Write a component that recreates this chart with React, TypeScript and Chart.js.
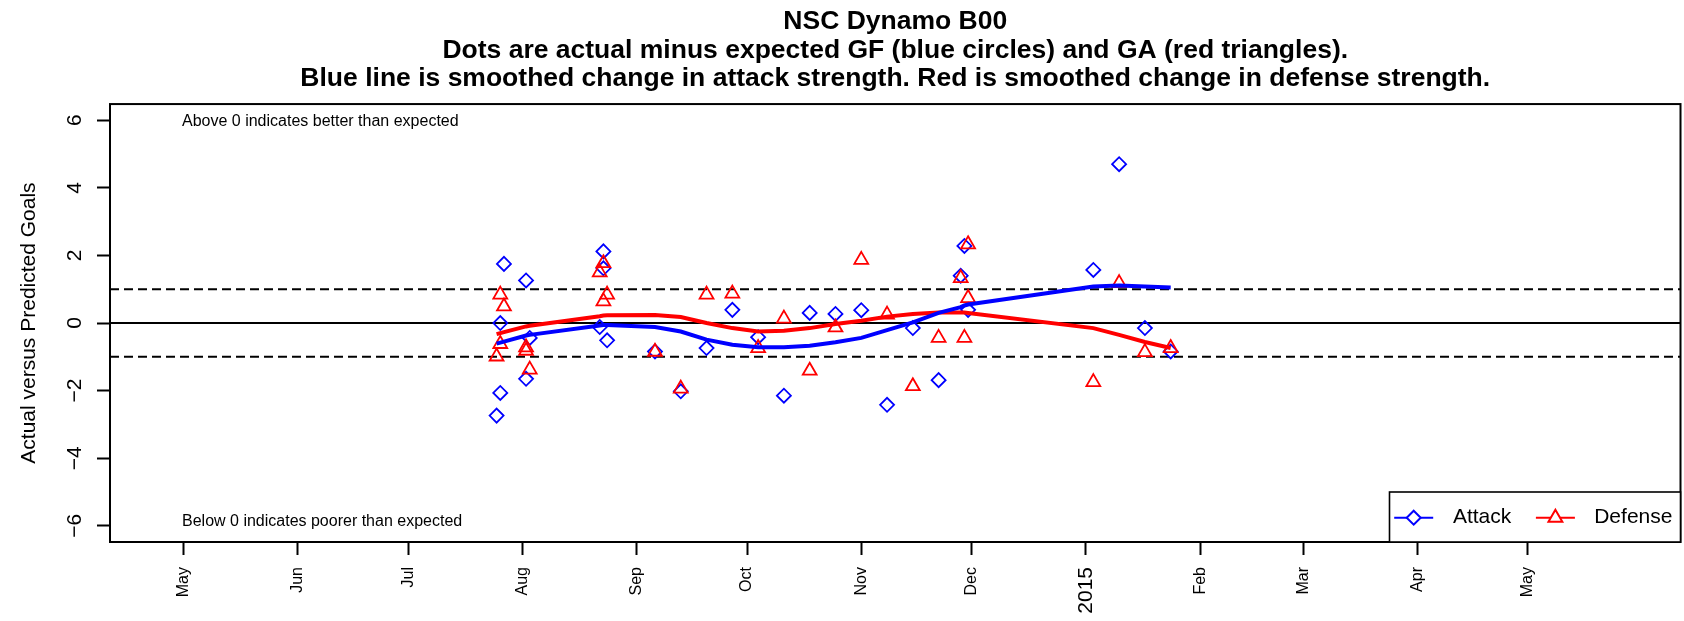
import React, { useEffect, useRef } from 'react';
import { Chart, registerables } from 'chart.js';

Chart.register(...registerables);

const FONT = "'Liberation Sans', Arial, Helvetica, sans-serif";
const BASE_DATE = '2014-05-01';

const titleLines = [
  'NSC Dynamo B00',
  'Dots are actual minus expected GF (blue circles) and GA (red triangles).',
  'Blue line is smoothed change in attack strength. Red is smoothed change in defense strength.',
];
const yAxisTitle = 'Actual versus Predicted Goals';
const noteAbove = 'Above 0 indicates better than expected';
const noteBelow = 'Below 0 indicates poorer than expected';
const legendLabels = ['Attack', 'Defense'];

const attackDates = [
  '2014-07-25', '2014-07-26', '2014-07-26', '2014-07-27', '2014-08-02', '2014-08-02', '2014-08-03',
  '2014-08-22', '2014-08-23', '2014-08-23', '2014-08-24', '2014-09-06', '2014-09-13', '2014-09-20',
  '2014-09-27', '2014-10-04', '2014-10-11', '2014-10-18', '2014-10-25', '2014-11-01', '2014-11-08',
  '2014-11-15', '2014-11-22', '2014-11-28', '2014-11-29', '2014-11-30', '2015-01-03', '2015-01-10',
  '2015-01-17', '2015-01-24',
];
const attackValues = [
  -2.74, 0.0, -2.07, 1.75, 1.26, -1.65, -0.44,
  -0.12, 2.12, 1.62, -0.51, -0.84, -2.02, -0.74,
  0.39, -0.42, -2.15, 0.3, 0.27, 0.38, -2.42,
  -0.15, -1.69, 1.4, 2.28, 0.39, 1.57, 4.7,
  -0.15, -0.84,
];

const defenseDates = [
  '2014-07-25', '2014-07-26', '2014-07-26', '2014-07-27', '2014-08-02', '2014-08-02', '2014-08-03',
  '2014-08-22', '2014-08-23', '2014-08-23', '2014-08-24', '2014-09-06', '2014-09-13', '2014-09-20',
  '2014-09-27', '2014-10-04', '2014-10-11', '2014-10-18', '2014-10-25', '2014-11-01', '2014-11-08',
  '2014-11-15', '2014-11-22', '2014-11-28', '2014-11-29', '2014-11-30', '2014-11-30', '2015-01-03',
  '2015-01-10', '2015-01-17', '2015-01-24',
];
const defenseValues = [
  -0.99, 0.84, -0.62, 0.49, -0.72, -0.82, -1.38,
  1.5, 1.77, 0.64, 0.84, -0.85, -1.94, 0.84,
  0.87, -0.74, 0.13, -1.41, -0.13, 1.87, 0.25,
  -1.87, -0.44, 1.33, -0.44, 2.33, 0.74, -1.75,
  1.18, -0.86, -0.74,
];

const smoothDates = [
  '2014-07-25', '2014-07-26', '2014-07-27', '2014-08-02', '2014-08-03', '2014-08-22', '2014-08-23',
  '2014-08-24', '2014-09-06', '2014-09-13', '2014-09-20', '2014-09-27', '2014-10-04', '2014-10-11',
  '2014-10-18', '2014-10-25', '2014-11-01', '2014-11-08', '2014-11-15', '2014-11-22', '2014-11-28',
  '2014-11-29', '2014-11-30', '2015-01-03', '2015-01-10', '2015-01-17', '2015-01-24',
];
const attackSmooth = [
  -0.61, -0.58, -0.55, -0.37, -0.35, -0.07, -0.06,
  -0.06, -0.12, -0.25, -0.49, -0.64, -0.72, -0.72,
  -0.67, -0.57, -0.44, -0.21, 0.02, 0.3, 0.47,
  0.52, 0.55, 1.08, 1.11, 1.08, 1.05,
];
const defenseSmooth = [
  -0.33, -0.3, -0.27, -0.1, -0.08, 0.2, 0.22,
  0.23, 0.24, 0.18, 0.0, -0.15, -0.25, -0.23,
  -0.15, -0.03, 0.07, 0.19, 0.27, 0.31, 0.31,
  0.31, 0.3, -0.15, -0.35, -0.56, -0.74,
];

const monthTickDates = [
  '2014-05-01', '2014-06-01', '2014-07-01', '2014-08-01', '2014-09-01', '2014-10-01', '2014-11-01',
  '2014-12-01', '2015-01-01', '2015-02-01', '2015-03-01', '2015-04-01', '2015-05-01',
];
const monthTickLabels = ['May', 'Jun', 'Jul', 'Aug', 'Sep', 'Oct', 'Nov', 'Dec', '2015', 'Feb', 'Mar', 'Apr', 'May'];
const yTickValues = [-6, -4, -2, 0, 2, 4, 6];
const refLineValues = [-1, 0, 1];

const X_MIN_DAY = -19.95;
const X_MAX_DAY = 406.4;
const Y_MIN = -6.48;
const Y_MAX = 6.48;
const NOTE_X_DAY = -0.4;
const NOTE_Y_ABOVE = 5.95;
const NOTE_Y_BELOW = -5.87;

const BLUE = '#0000ff';
const RED = '#ff0000';

const dayOf = (s: string) => (Date.parse(s) - Date.parse(BASE_DATE)) / 86400000;
const pts = (dates: string[], vals: number[]) => dates.map((d, i) => ({ x: dayOf(d), y: vals[i] }));

function markerPath(ctx: CanvasRenderingContext2D, style: string, cx: number, cy: number, r: number) {
  ctx.beginPath();
  if (style === 'rectRot') {
    ctx.moveTo(cx, cy - r);
    ctx.lineTo(cx + r, cy);
    ctx.lineTo(cx, cy + r);
    ctx.lineTo(cx - r, cy);
  } else {
    for (let k = 0; k < 3; k++) {
      const a = (k * 2 * Math.PI) / 3;
      const px = cx + Math.sin(a) * r;
      const py = cy - Math.cos(a) * r;
      if (k === 0) ctx.moveTo(px, py);
      else ctx.lineTo(px, py);
    }
  }
  ctx.closePath();
}

const decorPlugin = {
  id: 'rDecor',
  beforeDatasetsDraw(chart: any) {
    const { ctx, chartArea, scales } = chart;
    ctx.save();
    ctx.strokeStyle = '#000';
    ctx.lineWidth = 2;
    refLineValues.forEach((v) => {
      const y = scales.y.getPixelForValue(v);
      ctx.setLineDash(v === 0 ? [] : [9, 5]);
      ctx.beginPath();
      ctx.moveTo(chartArea.left, y);
      ctx.lineTo(chartArea.right, y);
      ctx.stroke();
    });
    ctx.setLineDash([]);
    ctx.fillStyle = '#000';
    ctx.font = `16px ${FONT}`;
    ctx.textAlign = 'left';
    ctx.textBaseline = 'middle';
    const nx = scales.x.getPixelForValue(NOTE_X_DAY);
    ctx.fillText(noteAbove, nx, scales.y.getPixelForValue(NOTE_Y_ABOVE));
    ctx.fillText(noteBelow, nx, scales.y.getPixelForValue(NOTE_Y_BELOW));
    ctx.restore();
  },
  afterDraw(chart: any) {
    const { ctx, chartArea } = chart;
    ctx.save();
    ctx.strokeStyle = '#000';
    ctx.lineWidth = 2;
    ctx.strokeRect(chartArea.left, chartArea.top, chartArea.right - chartArea.left, chartArea.bottom - chartArea.top);

    // legend (bottom-right inside the plot)
    const w = 291;
    const h = 50;
    const x0 = chartArea.right - w;
    const y0 = chartArea.bottom - h;
    ctx.fillStyle = '#fff';
    ctx.fillRect(x0, y0, w, h);
    ctx.lineWidth = 1.6;
    ctx.strokeRect(x0, y0, w, h);
    const cy = y0 + 25.7;
    const items = [
      { label: legendLabels[0], color: BLUE, style: 'rectRot', r: 7, lx: 4.7, tx: 63.4 },
      { label: legendLabels[1], color: RED, style: 'triangle', r: 8, lx: 146.4, tx: 204.7 },
    ];
    items.forEach((it) => {
      ctx.strokeStyle = it.color;
      ctx.lineWidth = 2;
      ctx.beginPath();
      ctx.moveTo(x0 + it.lx, cy);
      ctx.lineTo(x0 + it.lx + 39, cy);
      ctx.stroke();
      ctx.fillStyle = '#fff';
      markerPath(ctx, it.style, x0 + it.lx + 19.5, cy, it.r);
      ctx.fill();
      ctx.stroke();
      ctx.fillStyle = '#000';
      ctx.font = `21px ${FONT}`;
      ctx.textAlign = 'left';
      ctx.textBaseline = 'middle';
      ctx.fillText(it.label, x0 + it.tx, cy);
    });
    ctx.restore();
  },
};

export default function App() {
  const ref = useRef<HTMLCanvasElement>(null);
  useEffect(() => {
    if (!ref.current) return;
    const chart = new Chart(ref.current, {
      type: 'scatter',
      data: {
        datasets: [
          {
            label: 'Attack smoothed',
            data: pts(smoothDates, attackSmooth),
            showLine: true,
            borderColor: BLUE,
            borderWidth: 4,
            pointRadius: 0,
            tension: 0,
          },
          {
            label: 'Defense smoothed',
            data: pts(smoothDates, defenseSmooth),
            showLine: true,
            borderColor: RED,
            borderWidth: 4,
            pointRadius: 0,
            tension: 0,
          },
          {
            label: legendLabels[1],
            data: pts(defenseDates, defenseValues),
            pointStyle: 'triangle',
            pointRadius: 8,
            pointBorderWidth: 1.8,
            borderColor: RED,
            backgroundColor: 'rgba(0,0,0,0)',
          },
          {
            label: legendLabels[0],
            data: pts(attackDates, attackValues),
            pointStyle: 'rectRot',
            pointRadius: 7,
            pointBorderWidth: 1.8,
            borderColor: BLUE,
            backgroundColor: 'rgba(0,0,0,0)',
          },
        ],
      },
      options: {
        animation: false,
        responsive: false,
        layout: { autoPadding: false, padding: { left: 0, right: 3.5, top: 0, bottom: 0 } },
        plugins: {
          legend: { display: false },
          tooltip: { enabled: false },
          title: {
            display: true,
            fullSize: false,
            text: titleLines,
            color: '#000',
            font: { family: FONT, size: 26.5, weight: 'bold', lineHeight: 1.07 },
            padding: { top: 8, bottom: 11 },
          },
        },
        scales: {
          x: {
            type: 'linear',
            min: X_MIN_DAY,
            max: X_MAX_DAY,
            afterBuildTicks: (scale: any) => {
              scale.ticks = monthTickDates.map((d) => ({ value: dayOf(d) }));
            },
            afterFit: (scale: any) => {
              scale.height = 79;
              scale.paddingLeft = 0;
              scale.paddingRight = 0;
            },
            grid: { drawOnChartArea: false, drawTicks: true, tickLength: 13, tickWidth: 2, tickColor: '#000' },
            border: { display: false },
            ticks: {
              autoSkip: false,
              minRotation: 90,
              maxRotation: 90,
              padding: 12,
              color: '#000',
              font: (c: any) => ({ family: FONT, size: c.index === 8 ? 21 : 16 }),
              callback: (_v: any, i: number) => monthTickLabels[i],
            },
          },
          y: {
            type: 'linear',
            min: Y_MIN,
            max: Y_MAX,
            afterBuildTicks: (scale: any) => {
              scale.ticks = yTickValues.map((v) => ({ value: v }));
            },
            afterFit: (scale: any) => {
              scale.width = 110;
              scale.paddingTop = 0;
              scale.paddingBottom = 0;
            },
            grid: { drawOnChartArea: false, drawTicks: true, tickLength: 13, tickWidth: 2, tickColor: '#000' },
            border: { display: false },
            title: {
              display: true,
              text: yAxisTitle,
              color: '#000',
              font: { family: FONT, size: 21 },
              padding: { top: 17, bottom: 0 },
            },
            ticks: {
              minRotation: 90,
              maxRotation: 90,
              crossAlign: 'center',
              padding: 10,
              color: '#000',
              font: { family: FONT, size: 21 },
              callback: (v: any) => (v < 0 ? '\u2212' + Math.abs(v) : String(v)),
            },
          },
        },
      },
      plugins: [decorPlugin],
    } as any);
    return () => chart.destroy();
  }, []);
  return (
    <div style={{ position: 'absolute', left: 0, top: 0, width: 1684, height: 621, background: '#fff' }}>
      <canvas ref={ref} width={1684} height={621} style={{ display: 'block' }} />
    </div>
  );
}
